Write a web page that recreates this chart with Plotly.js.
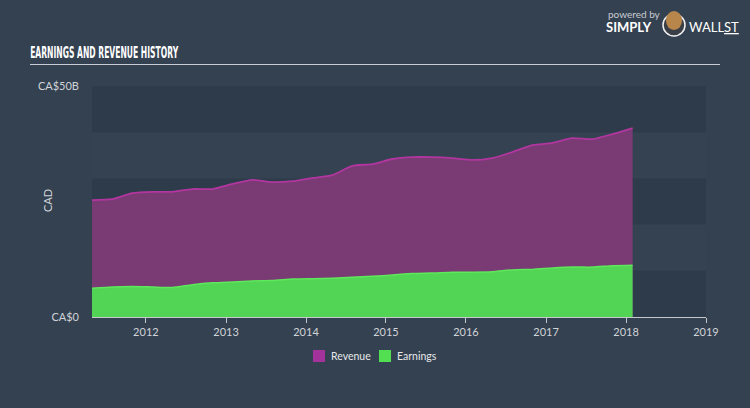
<!DOCTYPE html>
<html>
<head>
<meta charset="utf-8">
<script src="https://cdn.plot.ly/plotly-3.0.1.min.js"></script>
<style>
html,body{margin:0;padding:0;background:#344150;}
#chart{width:750px;height:408px;}
</style>
</head>
<body>
<div id="chart"></div>
<script>
// Quarter-end dates (fiscal quarters)
const dates = [
  '2011-04-30','2011-07-31','2011-10-31','2012-01-31',
  '2012-04-30','2012-07-31','2012-10-31','2013-01-31',
  '2013-04-30','2013-07-31','2013-10-31','2014-01-31',
  '2014-04-30','2014-07-31','2014-10-31','2015-01-31',
  '2015-04-30','2015-07-31','2015-10-31','2016-01-31',
  '2016-04-30','2016-07-31','2016-10-31','2017-01-31',
  '2017-04-30','2017-07-31','2017-10-31','2018-01-31'
];
// Values in CA$ billions
const revenue = [
  25.3, 25.5, 26.8, 27.1, 27.1, 27.7, 27.7, 28.8,
  29.7, 29.2, 29.4, 30.1, 30.7, 32.7, 33.1, 34.2,
  34.6, 34.6, 34.4, 34.0, 34.4, 35.7, 37.2, 37.7,
  38.7, 38.5, 39.6, 40.9
];
const earnings = [
  6.2, 6.5, 6.6, 6.5, 6.4, 7.0, 7.4, 7.6,
  7.8, 7.9, 8.2, 8.3, 8.4, 8.6, 8.8, 9.1,
  9.4, 9.5, 9.7, 9.7, 9.8, 10.2, 10.3, 10.6,
  10.8, 10.8, 11.1, 11.2
];
const yearTicks = ['2012-01-01','2013-01-01','2014-01-01','2015-01-01','2016-01-01','2017-01-01','2018-01-01','2019-01-01'];
const yearLabels = ['2012','2013','2014','2015','2016','2017','2018','2019'];
const yTickVals = [0, 50];
const yTickText = ['CA$0', 'CA$50B'];
const seriesNames = ['Revenue', 'Earnings'];
const chartTitle = 'EARNINGS AND REVENUE HISTORY';

const FONT = 'Lato, "Open Sans", sans-serif';
const revLine = '#b2369f', revFill = '#7a3a73';
const earnLine = '#5ee85b', earnFill = '#52d455';

const traces = [
  {x: dates, y: revenue, name: seriesNames[0], type: 'scatter', mode: 'lines',
   line: {color: revLine, width: 1.8, shape: 'spline', smoothing: 0.6},
   fill: 'tozeroy', fillcolor: revFill, showlegend: false, hoverinfo: 'skip'},
  {x: dates, y: earnings, name: seriesNames[1], type: 'scatter', mode: 'lines',
   line: {color: earnLine, width: 1.5, shape: 'spline', smoothing: 0.6},
   fill: 'tozeroy', fillcolor: earnFill, showlegend: false, hoverinfo: 'skip'}
];

const px = x => (x - 92) / 614;
const py = y => (317 - y) / 231;

const bandColor = '#2e3b4a';
const shapes = [];
[[0,10],[20,30],[40,50]].forEach(b => shapes.push({
  type: 'rect', xref: 'paper', yref: 'y', x0: 0, x1: 1, y0: b[0], y1: b[1],
  fillcolor: bandColor, line: {width: 0}, layer: 'below'
}));
shapes.push({type: 'line', xref: 'paper', yref: 'paper', x0: px(30), x1: px(720), y0: py(64.5), y1: py(64.5),
  line: {color: '#c8cdd3', width: 1.2}});
shapes.push({type: 'rect', xref: 'paper', yref: 'paper', x0: px(313), x1: px(325), y0: py(350), y1: py(362),
  fillcolor: '#a3339a', line: {width: 0}});
shapes.push({type: 'rect', xref: 'paper', yref: 'paper', x0: px(379), x1: px(391), y0: py(350), y1: py(362),
  fillcolor: '#52e052', line: {width: 0}});
shapes.push({type: 'circle', xref: 'paper', yref: 'paper', x0: px(663), x1: px(685), y0: py(36), y1: py(14),
  fillcolor: '#3a3f47', line: {color: '#f1f1f1', width: 1.5}});
shapes.push({type: 'circle', xref: 'paper', yref: 'paper', x0: px(666), x1: px(682), y0: py(30), y1: py(11),
  fillcolor: '#b8864a', line: {width: 0}});

const layout = {
  width: 750, height: 408,
  paper_bgcolor: '#344150', plot_bgcolor: '#344251',
  margin: {l: 92, r: 44, t: 86, b: 91},
  font: {family: FONT, color: '#d0d4d9', size: 11},
  xaxis: {
    type: 'date', range: ['2011-04-30', '2019-01-01'],
    tickvals: yearTicks, ticktext: yearLabels,
    showgrid: false, zeroline: false, showline: true, linecolor: '#c5c9ce', linewidth: 1,
    ticks: 'outside', ticklen: 5, tickcolor: '#c5c9ce', tickfont: {size: 11, color: '#d0d4d9'},
    fixedrange: true
  },
  yaxis: {
    range: [0, 50], tickvals: yTickVals, ticktext: yTickText,
    showgrid: false, zeroline: false, showline: false, ticks: '',
    tickfont: {size: 11, color: '#d0d4d9'}, ticklabelstandoff: 12,
    fixedrange: true
  },
  shapes: shapes,
  annotations: [
    {xref: 'paper', yref: 'paper', x: px(104), y: py(53), xanchor: 'center', yanchor: 'middle',
     text: '<b>' + chartTitle + '</b>', showarrow: false,
     font: {family: '"DejaVu Sans Condensed", "Liberation Sans Narrow", sans-serif', size: 15, color: '#ffffff'}},
    {xref: 'paper', yref: 'paper', x: px(47), y: py(201), xanchor: 'center', yanchor: 'middle',
     text: 'CAD', textangle: -90, showarrow: false, font: {size: 11, color: '#d0d4d9'}},
    {xref: 'paper', yref: 'paper', x: px(329), y: py(356), xanchor: 'left', yanchor: 'middle',
     text: seriesNames[0], showarrow: false, font: {size: 10.5, color: '#e6e8ea'}},
    {xref: 'paper', yref: 'paper', x: px(395), y: py(356), xanchor: 'left', yanchor: 'middle',
     text: seriesNames[1], showarrow: false, font: {size: 10.5, color: '#e6e8ea'}},
    {xref: 'paper', yref: 'paper', x: px(606), y: py(14), xanchor: 'left', yanchor: 'middle',
     text: 'powered by', showarrow: false, font: {size: 10, color: '#c8ccd2'}},
    {xref: 'paper', yref: 'paper', x: px(604), y: py(27), xanchor: 'left', yanchor: 'middle',
     text: '<b>SIMPLY</b>', showarrow: false, font: {size: 13, color: '#ffffff'}},
    {xref: 'paper', yref: 'paper', x: px(687), y: py(27), xanchor: 'left', yanchor: 'middle',
     text: 'WALL<span style="text-decoration:underline">ST</span>', showarrow: false, font: {size: 13, color: '#ffffff'}}
  ]
};

Plotly.newPlot('chart', traces, layout, {displayModeBar: false, staticPlot: true}).then(gd => {
  // condense the title to match the narrow display face of the original
  const t = gd.querySelector('.annotation[data-index="0"] text.annotation-text');
  if (t) {
    t.setAttribute('textLength', '148');
    t.setAttribute('lengthAdjust', 'spacingAndGlyphs');
  }
});
</script>
</body>
</html>
